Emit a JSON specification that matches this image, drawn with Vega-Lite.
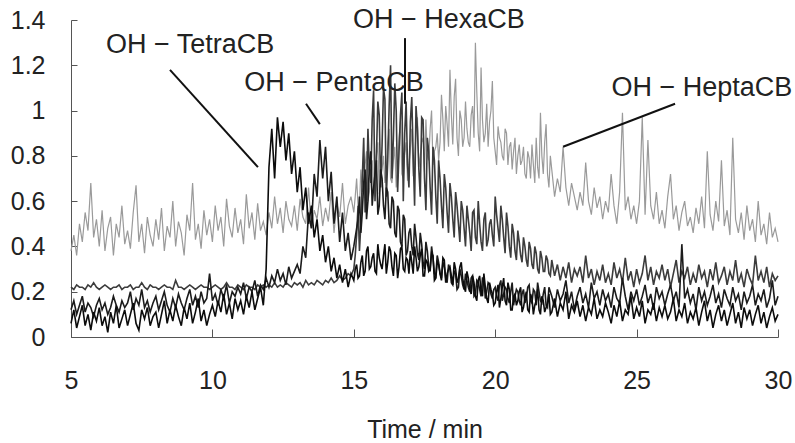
{
"$schema":"https://vega.github.io/schema/vega-lite/v6.json",
"width":707,"height":317,
"autosize":{"type":"none"},
"padding":{"left":71,"top":20,"right":17,"bottom":106},
"config":{"view":{"stroke":null},"font":"Liberation Sans","axis":{"grid":false,"domainColor":"#555","tickColor":"#555","labelColor":"#222","titleColor":"#222","labelFontSize":25,"titleFontSize":25,"titleFontWeight":"normal"}},
"datasets":{
"trace":[
{"t":5.0,"g":0.38,"a":0.06,"b":0.12,"c":0.22},{"t":5.1,"g":0.45,"a":0.12,"b":0.16,"c":0.21},{"t":5.2,"g":0.36,"a":0.04,"b":0.10,"c":0.23},{"t":5.3,"g":0.50,"a":0.09,"b":0.14,"c":0.22},{"t":5.4,"g":0.42,"a":0.14,"b":0.18,"c":0.22},{"t":5.5,"g":0.55,"a":0.05,"b":0.11,"c":0.21},{"t":5.6,"g":0.47,"a":0.10,"b":0.15,"c":0.23},{"t":5.7,"g":0.68,"a":0.03,"b":0.13,"c":0.22},{"t":5.8,"g":0.44,"a":0.11,"b":0.09,"c":0.24},{"t":5.9,"g":0.52,"a":0.07,"b":0.14,"c":0.22},
{"t":6.0,"g":0.40,"a":0.13,"b":0.17,"c":0.21},{"t":6.1,"g":0.56,"a":0.05,"b":0.12,"c":0.22},{"t":6.2,"g":0.38,"a":0.09,"b":0.15,"c":0.23},{"t":6.3,"g":0.48,"a":0.02,"b":0.10,"c":0.22},{"t":6.4,"g":0.53,"a":0.11,"b":0.13,"c":0.21},{"t":6.5,"g":0.36,"a":0.06,"b":0.18,"c":0.22},{"t":6.6,"g":0.50,"a":0.14,"b":0.14,"c":0.22},{"t":6.7,"g":0.44,"a":0.04,"b":0.11,"c":0.23},{"t":6.8,"g":0.58,"a":0.08,"b":0.16,"c":0.21},{"t":6.9,"g":0.41,"a":0.12,"b":0.13,"c":0.22},
{"t":7.0,"g":0.47,"a":0.05,"b":0.15,"c":0.22},{"t":7.1,"g":0.39,"a":0.10,"b":0.20,"c":0.23},{"t":7.2,"g":0.55,"a":0.15,"b":0.12,"c":0.21},{"t":7.3,"g":0.67,"a":0.06,"b":0.17,"c":0.22},{"t":7.4,"g":0.42,"a":0.03,"b":0.14,"c":0.22},{"t":7.5,"g":0.50,"a":0.12,"b":0.21,"c":0.24},{"t":7.6,"g":0.37,"a":0.08,"b":0.13,"c":0.22},{"t":7.7,"g":0.53,"a":0.13,"b":0.16,"c":0.21},{"t":7.8,"g":0.45,"a":0.05,"b":0.11,"c":0.23},{"t":7.9,"g":0.40,"a":0.09,"b":0.15,"c":0.22},
{"t":8.0,"g":0.52,"a":0.11,"b":0.18,"c":0.22},{"t":8.1,"g":0.43,"a":0.04,"b":0.12,"c":0.21},{"t":8.2,"g":0.57,"a":0.10,"b":0.16,"c":0.22},{"t":8.3,"g":0.38,"a":0.16,"b":0.20,"c":0.23},{"t":8.4,"g":0.49,"a":0.06,"b":0.14,"c":0.22},{"t":8.5,"g":0.44,"a":0.12,"b":0.11,"c":0.22},{"t":8.6,"g":0.60,"a":0.07,"b":0.17,"c":0.21},{"t":8.7,"g":0.40,"a":0.14,"b":0.13,"c":0.25},{"t":8.8,"g":0.51,"a":0.09,"b":0.19,"c":0.22},{"t":8.9,"g":0.46,"a":0.05,"b":0.15,"c":0.22},
{"t":9.0,"g":0.36,"a":0.13,"b":0.12,"c":0.21},{"t":9.1,"g":0.54,"a":0.08,"b":0.17,"c":0.22},{"t":9.2,"g":0.47,"a":0.15,"b":0.21,"c":0.23},{"t":9.3,"g":0.68,"a":0.06,"b":0.14,"c":0.22},{"t":9.4,"g":0.43,"a":0.11,"b":0.18,"c":0.21},{"t":9.5,"g":0.50,"a":0.17,"b":0.13,"c":0.22},{"t":9.6,"g":0.39,"a":0.07,"b":0.20,"c":0.23},{"t":9.7,"g":0.56,"a":0.12,"b":0.15,"c":0.22},{"t":9.8,"g":0.45,"a":0.05,"b":0.17,"c":0.22},{"t":9.9,"g":0.52,"a":0.10,"b":0.28,"c":0.21},
{"t":10.0,"g":0.42,"a":0.14,"b":0.16,"c":0.22},{"t":10.1,"g":0.58,"a":0.09,"b":0.19,"c":0.23},{"t":10.2,"g":0.47,"a":0.16,"b":0.14,"c":0.22},{"t":10.3,"g":0.53,"a":0.11,"b":0.21,"c":0.21},{"t":10.4,"g":0.40,"a":0.19,"b":0.17,"c":0.22},{"t":10.5,"g":0.61,"a":0.10,"b":0.23,"c":0.24},{"t":10.6,"g":0.49,"a":0.15,"b":0.15,"c":0.22},{"t":10.7,"g":0.44,"a":0.08,"b":0.20,"c":0.22},{"t":10.8,"g":0.57,"a":0.17,"b":0.18,"c":0.21},{"t":10.9,"g":0.46,"a":0.12,"b":0.22,"c":0.23},
{"t":11.0,"g":0.52,"a":0.16,"b":0.19,"c":0.22},{"t":11.1,"g":0.41,"a":0.10,"b":0.24,"c":0.21},{"t":11.2,"g":0.63,"a":0.18,"b":0.17,"c":0.23},{"t":11.3,"g":0.48,"a":0.13,"b":0.22,"c":0.22},{"t":11.4,"g":0.55,"a":0.20,"b":0.20,"c":0.22},{"t":11.5,"g":0.43,"a":0.12,"b":0.25,"c":0.21},{"t":11.6,"g":0.59,"a":0.17,"b":0.18,"c":0.23},{"t":11.7,"g":0.47,"a":0.22,"b":0.23,"c":0.22},{"t":11.8,"g":0.51,"a":0.14,"b":0.21,"c":0.23},{"t":11.9,"g":0.45,"a":0.30,"b":0.26,"c":0.22},
{"t":12.0,"g":0.55,"a":0.75,"b":0.22,"c":0.23},{"t":12.1,"g":0.48,"a":0.92,"b":0.27,"c":0.22},{"t":12.2,"g":0.62,"a":0.70,"b":0.24,"c":0.24},{"t":12.3,"g":0.50,"a":0.97,"b":0.30,"c":0.22},{"t":12.4,"g":0.57,"a":0.84,"b":0.25,"c":0.23},{"t":12.5,"g":0.46,"a":0.95,"b":0.28,"c":0.22},{"t":12.6,"g":0.60,"a":0.78,"b":0.23,"c":0.24},{"t":12.7,"g":0.52,"a":0.90,"b":0.31,"c":0.23},{"t":12.8,"g":0.49,"a":0.72,"b":0.26,"c":0.22},{"t":12.9,"g":0.58,"a":0.82,"b":0.29,"c":0.24},
{"t":13.0,"g":0.47,"a":0.64,"b":0.32,"c":0.23},{"t":13.1,"g":0.61,"a":0.75,"b":0.28,"c":0.24},{"t":13.2,"g":0.53,"a":0.56,"b":0.40,"c":0.22},{"t":13.3,"g":0.50,"a":0.66,"b":0.35,"c":0.25},{"t":13.4,"g":0.66,"a":0.50,"b":0.55,"c":0.23},{"t":13.5,"g":0.48,"a":0.58,"b":0.48,"c":0.24},{"t":13.6,"g":0.56,"a":0.44,"b":0.72,"c":0.23},{"t":13.7,"g":0.52,"a":0.52,"b":0.62,"c":0.25},{"t":13.8,"g":0.62,"a":0.38,"b":0.87,"c":0.24},{"t":13.9,"g":0.49,"a":0.45,"b":0.70,"c":0.23},
{"t":14.0,"g":0.57,"a":0.33,"b":0.84,"c":0.25},{"t":14.1,"g":0.51,"a":0.40,"b":0.60,"c":0.24},{"t":14.2,"g":0.64,"a":0.29,"b":0.73,"c":0.26},{"t":14.3,"g":0.46,"a":0.35,"b":0.50,"c":0.24},{"t":14.4,"g":0.59,"a":0.26,"b":0.62,"c":0.25},{"t":14.5,"g":0.53,"a":0.32,"b":0.42,"c":0.27},{"t":14.6,"g":0.68,"a":0.24,"b":0.55,"c":0.25},{"t":14.7,"g":0.50,"a":0.30,"b":0.38,"c":0.26},{"t":14.8,"g":0.58,"a":0.22,"b":0.46,"c":0.28},{"t":14.9,"g":0.62,"a":0.28,"b":0.34,"c":0.27},
{"t":15.0,"g":0.55,"a":0.25,"b":0.40,"c":0.30},{"t":15.1,"g":0.70,"a":0.32,"b":0.48,"c":0.45},{"t":15.2,"g":0.58,"a":0.27,"b":0.62,"c":0.38},{"t":15.3,"g":0.64,"a":0.36,"b":0.55,"c":0.70},{"t":15.4,"g":0.76,"a":0.29,"b":0.74,"c":0.55},{"t":15.5,"g":0.60,"a":0.40,"b":0.60,"c":0.92},{"t":15.6,"g":0.72,"a":0.31,"b":0.82,"c":0.68},{"t":15.7,"g":0.66,"a":0.37,"b":0.66,"c":1.09},{"t":15.8,"g":0.80,"a":0.28,"b":0.78,"c":0.80},{"t":15.9,"g":0.63,"a":0.35,"b":0.58,"c":0.98},
{"t":16.0,"g":0.74,"a":0.30,"b":0.70,"c":0.85},{"t":16.1,"g":0.68,"a":0.41,"b":0.52,"c":1.05},{"t":16.2,"g":0.85,"a":0.33,"b":0.64,"c":0.78},{"t":16.3,"g":0.70,"a":0.38,"b":0.48,"c":1.20},{"t":16.4,"g":0.78,"a":0.27,"b":0.60,"c":0.88},{"t":16.5,"g":0.66,"a":0.36,"b":0.44,"c":1.00},{"t":16.6,"g":0.88,"a":0.31,"b":0.56,"c":0.82},{"t":16.7,"g":0.72,"a":0.40,"b":0.40,"c":1.08},{"t":16.8,"g":0.81,"a":0.29,"b":0.52,"c":0.90},{"t":16.9,"g":0.69,"a":0.34,"b":0.38,"c":0.76},
{"t":17.0,"g":0.83,"a":0.38,"b":0.48,"c":0.95},{"t":17.1,"g":0.71,"a":0.28,"b":0.36,"c":0.80},{"t":17.2,"g":0.90,"a":0.35,"b":0.44,"c":1.02},{"t":17.3,"g":0.75,"a":0.31,"b":0.34,"c":0.74},{"t":17.4,"g":0.86,"a":0.39,"b":0.41,"c":0.97},{"t":17.5,"g":0.73,"a":0.27,"b":0.30,"c":0.70},{"t":17.6,"g":0.80,"a":0.33,"b":0.38,"c":0.88},{"t":17.7,"g":0.92,"a":0.30,"b":0.29,"c":0.66},{"t":17.8,"g":0.76,"a":0.36,"b":0.35,"c":0.84},{"t":17.9,"g":0.84,"a":0.26,"b":0.27,"c":0.62},
{"t":18.0,"g":0.78,"a":0.32,"b":0.33,"c":0.78},{"t":18.1,"g":1.07,"a":0.25,"b":0.26,"c":0.58},{"t":18.2,"g":0.82,"a":0.34,"b":0.31,"c":0.72},{"t":18.3,"g":0.94,"a":0.28,"b":0.24,"c":0.55},{"t":18.4,"g":1.18,"a":0.31,"b":0.30,"c":0.68},{"t":18.5,"g":0.85,"a":0.23,"b":0.23,"c":0.52},{"t":18.6,"g":1.14,"a":0.30,"b":0.28,"c":0.64},{"t":18.7,"g":0.80,"a":0.26,"b":0.22,"c":0.50},{"t":18.8,"g":0.96,"a":0.33,"b":0.27,"c":0.60},{"t":18.9,"g":0.88,"a":0.22,"b":0.21,"c":0.48},
{"t":19.0,"g":0.92,"a":0.29,"b":0.25,"c":0.58},{"t":19.1,"g":0.84,"a":0.21,"b":0.20,"c":0.46},{"t":19.2,"g":1.02,"a":0.27,"b":0.27,"c":0.55},{"t":19.3,"g":1.30,"a":0.18,"b":0.19,"c":0.44},{"t":19.4,"g":0.90,"a":0.25,"b":0.24,"c":0.60},{"t":19.5,"g":1.19,"a":0.20,"b":0.18,"c":0.42},{"t":19.6,"g":0.86,"a":0.28,"b":0.26,"c":0.52},{"t":19.7,"g":1.03,"a":0.17,"b":0.20,"c":0.40},{"t":19.8,"g":0.95,"a":0.24,"b":0.23,"c":0.50},{"t":19.9,"g":1.13,"a":0.19,"b":0.17,"c":0.45},
{"t":20.0,"g":0.82,"a":0.15,"b":0.22,"c":0.62},{"t":20.1,"g":0.93,"a":0.23,"b":0.16,"c":0.48},{"t":20.2,"g":0.86,"a":0.17,"b":0.25,"c":0.58},{"t":20.3,"g":0.78,"a":0.26,"b":0.19,"c":0.44},{"t":20.4,"g":0.90,"a":0.14,"b":0.21,"c":0.55},{"t":20.5,"g":0.84,"a":0.21,"b":0.15,"c":0.40},{"t":20.6,"g":0.74,"a":0.12,"b":0.24,"c":0.50},{"t":20.7,"g":0.88,"a":0.19,"b":0.18,"c":0.38},{"t":20.8,"g":0.80,"a":0.16,"b":0.20,"c":0.47},{"t":20.9,"g":0.76,"a":0.22,"b":0.14,"c":0.36},
{"t":21.0,"g":0.84,"a":0.13,"b":0.21,"c":0.44},{"t":21.1,"g":0.70,"a":0.20,"b":0.17,"c":0.34},{"t":21.2,"g":0.79,"a":0.11,"b":0.23,"c":0.42},{"t":21.3,"g":0.85,"a":0.17,"b":0.15,"c":0.32},{"t":21.4,"g":0.68,"a":0.14,"b":0.20,"c":0.40},{"t":21.5,"g":0.75,"a":0.21,"b":0.24,"c":0.30},{"t":21.6,"g":0.99,"a":0.10,"b":0.16,"c":0.38},{"t":21.7,"g":0.72,"a":0.16,"b":0.19,"c":0.29},{"t":21.8,"g":0.94,"a":0.13,"b":0.14,"c":0.36},{"t":21.9,"g":0.66,"a":0.19,"b":0.22,"c":0.28},
{"t":22.0,"g":0.74,"a":0.11,"b":0.18,"c":0.34},{"t":22.1,"g":0.62,"a":0.17,"b":0.13,"c":0.27},{"t":22.2,"g":0.70,"a":0.09,"b":0.21,"c":0.32},{"t":22.3,"g":0.64,"a":0.15,"b":0.16,"c":0.25},{"t":22.4,"g":0.84,"a":0.12,"b":0.19,"c":0.31},{"t":22.5,"g":0.66,"a":0.20,"b":0.25,"c":0.26},{"t":22.6,"g":0.58,"a":0.08,"b":0.15,"c":0.33},{"t":22.7,"g":0.68,"a":0.14,"b":0.20,"c":0.24},{"t":22.8,"g":0.62,"a":0.11,"b":0.12,"c":0.30},{"t":22.9,"g":0.56,"a":0.16,"b":0.18,"c":0.27},
{"t":23.0,"g":0.64,"a":0.09,"b":0.22,"c":0.31},{"t":23.1,"g":0.58,"a":0.14,"b":0.15,"c":0.24},{"t":23.2,"g":0.77,"a":0.07,"b":0.19,"c":0.36},{"t":23.3,"g":0.60,"a":0.13,"b":0.13,"c":0.26},{"t":23.4,"g":0.54,"a":0.10,"b":0.24,"c":0.30},{"t":23.5,"g":0.66,"a":0.17,"b":0.17,"c":0.23},{"t":23.6,"g":0.57,"a":0.08,"b":0.20,"c":0.29},{"t":23.7,"g":0.62,"a":0.12,"b":0.14,"c":0.25},{"t":23.8,"g":0.52,"a":0.09,"b":0.21,"c":0.32},{"t":23.9,"g":0.60,"a":0.15,"b":0.16,"c":0.24},
{"t":24.0,"g":0.55,"a":0.11,"b":0.19,"c":0.28},{"t":24.1,"g":0.72,"a":0.06,"b":0.13,"c":0.23},{"t":24.2,"g":0.58,"a":0.14,"b":0.22,"c":0.33},{"t":24.3,"g":0.50,"a":0.09,"b":0.17,"c":0.26},{"t":24.4,"g":0.64,"a":0.16,"b":0.15,"c":0.30},{"t":24.5,"g":0.99,"a":0.07,"b":0.26,"c":0.24},{"t":24.6,"g":0.56,"a":0.12,"b":0.18,"c":0.35},{"t":24.7,"g":0.62,"a":0.10,"b":0.12,"c":0.25},{"t":24.8,"g":0.52,"a":0.18,"b":0.20,"c":0.29},{"t":24.9,"g":0.58,"a":0.08,"b":0.16,"c":0.22},
{"t":25.0,"g":0.50,"a":0.13,"b":0.21,"c":0.30},{"t":25.1,"g":0.60,"a":0.09,"b":0.14,"c":0.24},{"t":25.2,"g":0.97,"a":0.16,"b":0.18,"c":0.28},{"t":25.3,"g":0.54,"a":0.06,"b":0.23,"c":0.36},{"t":25.4,"g":0.87,"a":0.12,"b":0.15,"c":0.25},{"t":25.5,"g":0.58,"a":0.10,"b":0.19,"c":0.31},{"t":25.6,"g":0.52,"a":0.15,"b":0.12,"c":0.23},{"t":25.7,"g":0.64,"a":0.07,"b":0.22,"c":0.29},{"t":25.8,"g":0.50,"a":0.13,"b":0.17,"c":0.26},{"t":25.9,"g":0.56,"a":0.09,"b":0.20,"c":0.32},
{"t":26.0,"g":0.48,"a":0.14,"b":0.14,"c":0.25},{"t":26.1,"g":0.62,"a":0.08,"b":0.19,"c":0.30},{"t":26.2,"g":0.72,"a":0.11,"b":0.23,"c":0.22},{"t":26.3,"g":0.52,"a":0.17,"b":0.16,"c":0.28},{"t":26.4,"g":0.58,"a":0.07,"b":0.20,"c":0.34},{"t":26.5,"g":0.47,"a":0.12,"b":0.13,"c":0.24},{"t":26.6,"g":0.55,"a":0.09,"b":0.41,"c":0.29},{"t":26.7,"g":0.60,"a":0.15,"b":0.17,"c":0.26},{"t":26.8,"g":0.49,"a":0.06,"b":0.21,"c":0.31},{"t":26.9,"g":0.53,"a":0.11,"b":0.15,"c":0.23},
{"t":27.0,"g":0.46,"a":0.08,"b":0.19,"c":0.28},{"t":27.1,"g":0.57,"a":0.13,"b":0.12,"c":0.24},{"t":27.2,"g":0.50,"a":0.05,"b":0.22,"c":0.32},{"t":27.3,"g":0.62,"a":0.11,"b":0.16,"c":0.26},{"t":27.4,"g":0.48,"a":0.16,"b":0.20,"c":0.29},{"t":27.5,"g":0.82,"a":0.07,"b":0.14,"c":0.22},{"t":27.6,"g":0.54,"a":0.12,"b":0.18,"c":0.30},{"t":27.7,"g":0.47,"a":0.04,"b":0.23,"c":0.25},{"t":27.8,"g":0.60,"a":0.10,"b":0.15,"c":0.33},{"t":27.9,"g":0.51,"a":0.14,"b":0.19,"c":0.24},
{"t":28.0,"g":0.78,"a":0.07,"b":0.13,"c":0.27},{"t":28.1,"g":0.49,"a":0.12,"b":0.21,"c":0.31},{"t":28.2,"g":0.56,"a":0.05,"b":0.17,"c":0.23},{"t":28.3,"g":0.45,"a":0.10,"b":0.14,"c":0.29},{"t":28.4,"g":0.88,"a":0.15,"b":0.22,"c":0.25},{"t":28.5,"g":0.52,"a":0.06,"b":0.16,"c":0.34},{"t":28.6,"g":0.46,"a":0.11,"b":0.19,"c":0.24},{"t":28.7,"g":0.55,"a":0.04,"b":0.12,"c":0.28},{"t":28.8,"g":0.43,"a":0.13,"b":0.20,"c":0.22},{"t":28.9,"g":0.58,"a":0.08,"b":0.15,"c":0.30},
{"t":29.0,"g":0.47,"a":0.12,"b":0.18,"c":0.26},{"t":29.1,"g":0.52,"a":0.05,"b":0.23,"c":0.23},{"t":29.2,"g":0.42,"a":0.10,"b":0.14,"c":0.36},{"t":29.3,"g":0.60,"a":0.14,"b":0.19,"c":0.25},{"t":29.4,"g":0.45,"a":0.06,"b":0.16,"c":0.29},{"t":29.5,"g":0.50,"a":0.11,"b":0.21,"c":0.24},{"t":29.6,"g":0.41,"a":0.04,"b":0.13,"c":0.31},{"t":29.7,"g":0.55,"a":0.09,"b":0.17,"c":0.22},{"t":29.8,"g":0.44,"a":0.13,"b":0.25,"c":0.28},{"t":29.9,"g":0.48,"a":0.07,"b":0.14,"c":0.25},
{"t":30.0,"g":0.42,"a":0.10,"b":0.18,"c":0.27},
{"t":15.05,"g":0.62,"a":0.30,"b":0.44,"c":0.36},{"t":15.15,"g":0.58,"a":0.26,"b":0.52,"c":0.58},{"t":15.25,"g":0.74,"a":0.33,"b":0.46,"c":0.50},{"t":15.35,"g":0.66,"a":0.27,"b":0.68,"c":0.88},{"t":15.45,"g":0.82,"a":0.38,"b":0.52,"c":0.62},{"t":15.55,"g":0.64,"a":0.30,"b":0.76,"c":0.74},{"t":15.65,"g":0.78,"a":0.35,"b":0.58,"c":0.96},{"t":15.75,"g":0.62,"a":0.29,"b":0.72,"c":0.60},{"t":15.85,"g":0.86,"a":0.41,"b":0.54,"c":1.04},{"t":15.95,"g":0.70,"a":0.32,"b":0.74,"c":0.66},
{"t":16.05,"g":0.80,"a":0.36,"b":0.58,"c":1.10},{"t":16.15,"g":0.72,"a":0.28,"b":0.66,"c":0.62},{"t":16.25,"g":0.92,"a":0.40,"b":0.50,"c":1.02},{"t":16.35,"g":0.68,"a":0.31,"b":0.62,"c":0.70},{"t":16.45,"g":0.84,"a":0.37,"b":0.46,"c":1.12},{"t":16.55,"g":0.74,"a":0.26,"b":0.58,"c":0.64},{"t":16.65,"g":0.95,"a":0.39,"b":0.42,"c":0.98},{"t":16.75,"g":0.70,"a":0.30,"b":0.54,"c":0.60},{"t":16.85,"g":0.86,"a":0.35,"b":0.36,"c":1.04},{"t":16.95,"g":0.76,"a":0.28,"b":0.46,"c":0.66},
{"t":17.05,"g":0.92,"a":0.33,"b":0.40,"c":1.06},{"t":17.15,"g":0.78,"a":0.40,"b":0.50,"c":0.58},{"t":17.25,"g":0.97,"a":0.29,"b":0.37,"c":0.92},{"t":17.35,"g":0.80,"a":0.36,"b":0.46,"c":0.62},{"t":17.45,"g":0.88,"a":0.27,"b":0.33,"c":0.96},{"t":17.55,"g":0.96,"a":0.34,"b":0.42,"c":0.56},{"t":17.65,"g":0.78,"a":0.29,"b":0.31,"c":0.82},{"t":17.75,"g":1.00,"a":0.37,"b":0.40,"c":0.54},{"t":17.85,"g":0.82,"a":0.25,"b":0.28,"c":0.78},{"t":17.95,"g":0.90,"a":0.33,"b":0.36,"c":0.50},
{"t":18.05,"g":0.86,"a":0.28,"b":0.28,"c":0.70},{"t":18.15,"g":0.96,"a":0.35,"b":0.33,"c":0.48},{"t":18.25,"g":1.02,"a":0.24,"b":0.26,"c":0.66},{"t":18.35,"g":0.84,"a":0.30,"b":0.32,"c":0.46},{"t":18.45,"g":0.98,"a":0.27,"b":0.24,"c":0.62},{"t":18.55,"g":1.06,"a":0.33,"b":0.29,"c":0.44},{"t":18.65,"g":0.88,"a":0.24,"b":0.21,"c":0.58},{"t":18.75,"g":1.00,"a":0.31,"b":0.30,"c":0.42},{"t":18.85,"g":0.84,"a":0.26,"b":0.23,"c":0.56},{"t":18.95,"g":1.04,"a":0.20,"b":0.28,"c":0.40},
{"t":19.05,"g":0.86,"a":0.26,"b":0.22,"c":0.52},{"t":19.15,"g":0.98,"a":0.19,"b":0.26,"c":0.38},{"t":19.25,"g":0.88,"a":0.24,"b":0.18,"c":0.56},{"t":19.35,"g":1.08,"a":0.16,"b":0.25,"c":0.41},{"t":19.45,"g":0.82,"a":0.27,"b":0.21,"c":0.50},{"t":19.55,"g":0.96,"a":0.18,"b":0.26,"c":0.38},{"t":19.65,"g":0.90,"a":0.22,"b":0.17,"c":0.55},{"t":19.75,"g":0.84,"a":0.15,"b":0.24,"c":0.43},{"t":19.85,"g":1.00,"a":0.21,"b":0.19,"c":0.52},{"t":19.95,"g":0.88,"a":0.14,"b":0.21,"c":0.40},
{"t":20.05,"g":0.76,"a":0.20,"b":0.18,"c":0.54},{"t":20.15,"g":0.88,"a":0.13,"b":0.23,"c":0.42},{"t":20.25,"g":0.80,"a":0.22,"b":0.16,"c":0.52},{"t":20.35,"g":0.92,"a":0.16,"b":0.22,"c":0.37},{"t":20.45,"g":0.76,"a":0.24,"b":0.17,"c":0.49},{"t":20.55,"g":0.86,"a":0.12,"b":0.20,"c":0.35},{"t":20.65,"g":0.82,"a":0.18,"b":0.14,"c":0.46},{"t":20.75,"g":0.72,"a":0.14,"b":0.21,"c":0.34},{"t":20.85,"g":0.85,"a":0.20,"b":0.16,"c":0.42},{"t":20.95,"g":0.78,"a":0.11,"b":0.19,"c":0.33},
{"t":21.05,"g":0.72,"a":0.17,"b":0.15,"c":0.40},{"t":21.15,"g":0.82,"a":0.12,"b":0.22,"c":0.31},{"t":21.25,"g":0.70,"a":0.19,"b":0.16,"c":0.39},{"t":21.35,"g":0.76,"a":0.10,"b":0.21,"c":0.30},{"t":21.45,"g":0.88,"a":0.16,"b":0.14,"c":0.37},{"t":21.55,"g":0.70,"a":0.12,"b":0.20,"c":0.28},{"t":21.65,"g":0.80,"a":0.18,"b":0.15,"c":0.35},{"t":21.75,"g":0.86,"a":0.11,"b":0.22,"c":0.29},{"t":21.85,"g":0.72,"a":0.15,"b":0.13,"c":0.34},{"t":21.95,"g":0.80,"a":0.10,"b":0.20,"c":0.27}
],
"labels":[
{"t":9.21,"v":1.29,"text":"OH − TetraCB"},
{"t":14.30,"v":1.12,"text":"OH − PentaCB"},
{"t":18.01,"v":1.40,"text":"OH − HexaCB"},
{"t":27.31,"v":1.10,"text":"OH − HeptaCB"}
],
"leaders":[
{"t":8.50,"v":1.18,"t2":11.61,"v2":0.75},
{"t":13.31,"v":1.03,"t2":13.80,"v2":0.94},
{"t":16.81,"v":1.32,"t2":16.81,"v2":1.03},
{"t":26.36,"v":1.03,"t2":22.40,"v2":0.84}
]
},
"layer":[
{"data":{"name":"trace"},
 "mark":{"type":"line","color":"#9a9a9a","strokeWidth":1.2},
 "encoding":{
  "x":{"field":"t","type":"quantitative","scale":{"domain":[5,30],"nice":false,"zero":false},
       "axis":{"values":[5,10,15,20,25,30],"tickSize":-8,"labelPadding":39,"title":"Time / min","titlePadding":24,"labelFlush":false}},
  "y":{"field":"g","type":"quantitative","scale":{"domain":[0,1.4],"nice":false},
       "axis":{"values":[0,0.2,0.4,0.6,0.8,1,1.2,1.4],"format":".1~f","tickSize":-6,"labelPadding":32,"title":null}}
 }},
{"data":{"name":"trace"},
 "transform":[{"fold":["c","b","a"],"as":["s","v"]}],
 "mark":{"type":"line","strokeWidth":1.6},
 "encoding":{
  "x":{"field":"t","type":"quantitative"},
  "y":{"field":"v","type":"quantitative"},
  "color":{"field":"s","type":"nominal","scale":{"domain":["c","b","a"],"range":["#3c3c3c","#1c1c1c","#0c0c0c"]},"legend":null}
 }},
{"data":{"name":"leaders"},
 "mark":{"type":"rule","color":"#111","strokeWidth":2},
 "encoding":{"x":{"field":"t","type":"quantitative"},"y":{"field":"v","type":"quantitative"},"x2":{"field":"t2"},"y2":{"field":"v2"}}},
{"data":{"name":"labels"},
 "mark":{"type":"text","fontSize":27,"color":"#222","align":"center","baseline":"middle"},
 "encoding":{"x":{"field":"t","type":"quantitative"},"y":{"field":"v","type":"quantitative"},"text":{"field":"text"}}}
]
}
